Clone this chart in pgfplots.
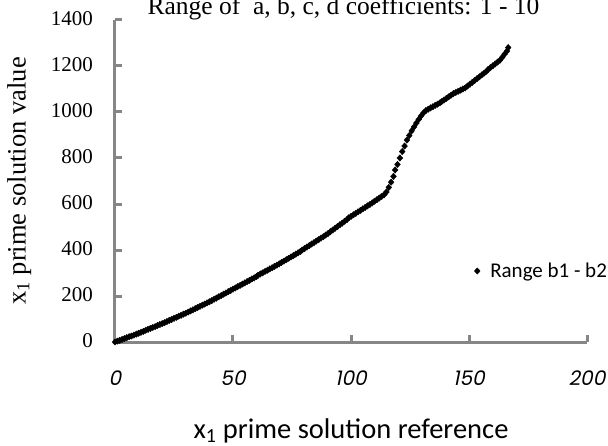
\documentclass[border=0pt]{standalone}
\usepackage{fontspec}
\setmainfont{Liberation Serif}
\newfontfamily\calibri{Carlito}
\newfontfamily\gothic[FakeSlant=0.2]{Poppins}
\usepackage{pgfplots}
\usepackage{pgfplotstable}
\pgfplotsset{compat=1.18}
\definecolor{axgray}{RGB}{134,134,134}

\pgfplotstableread{
x y
0 0
1 4
2 7
3 11
4 15
5 19
6 23
7 26
8 30
9 34
10 38
11 42
12 46
13 51
14 55
15 59
16 63
17 67
18 72
19 76
20 80
21 84
22 89
23 94
24 98
25 103
26 107
27 112
28 116
29 121
30 125
31 130
32 135
33 140
34 145
35 150
36 155
37 160
38 165
39 170
40 175
41 180
42 186
43 191
44 197
45 202
46 208
47 213
48 219
49 224
50 230
51 235
52 241
53 246
54 252
55 257
56 263
57 268
58 274
59 279
60 285
60.6 290
61.6 296
62.6 301
63.6 307
64.6 312
65.6 318
66.6 323
67.6 329
68.6 334
69.6 340
70.6 346
71.6 352
72.6 358
73.6 364
74.6 370
75.6 376
76.6 382
77.6 388
78.6 394
79.3 400
80.3 406
81.3 413
82.3 419
83.3 426
84.3 432
85.3 439
86.3 445
87.3 452
88.3 458
89.3 465
90.3 472
91.3 480
92.3 487
93.3 495
94.3 502
95.3 510
96.3 517
97.3 525
98.3 532
99.0 540
100.0 546
101.0 553
102.0 559
103.0 566
104.0 572
105.0 579
106.0 585
107.0 592
108.0 598
109.0 605
110.0 612
111.0 619
112.0 626
113.0 633
114.0 640
115.0 652
116.0 672
117.0 695
118.0 720
118.7 748
119.7 772
120.7 800
121.7 828
122.7 852
123.7 878
124.7 898
125.7 918
126.7 935
127.7 952
128.7 968
129.7 983
130.7 996
131.7 1006
132.7 1012
133.7 1018
134.7 1023
135.7 1029
136.7 1034
137.7 1040
138.4 1045
139.4 1052
140.4 1059
141.4 1066
142.4 1073
143.4 1080
144.4 1085
145.4 1090
146.4 1095
147.4 1100
148.4 1105
149.4 1113
150.4 1121
151.4 1129
152.4 1137
153.4 1145
154.4 1153
155.4 1161
156.4 1169
157.4 1177
158.1 1185
159.1 1193
160.1 1201
161.1 1209
162.1 1217
163.1 1225
164.1 1238
165.1 1252
166.1 1265
166.6 1280
}\datatable

\begin{document}
\begin{tikzpicture}
\begin{axis}[
  scale only axis, width=472bp, height=322bp,
  xmin=0, xmax=200, ymin=0, ymax=1400,
  axis x line=bottom, axis y line=left,
  axis line style={draw=axgray, line width=3bp, -},
  every outer x axis line/.append style={draw=axgray, line width=3bp, -},
  every outer y axis line/.append style={draw=axgray, line width=3bp, -},
  xtick={0,50,100,150,200}, ytick={0,200,...,1400},
  minor tick num=0,
  tick align=inside, major tick length=7bp,
  major tick style={draw=axgray, line width=3bp},
  /pgf/number format/assume math mode=true,
  /pgf/number format/1000 sep={},
  xticklabel style={font=\gothic\fontsize{20bp}{24bp}\selectfont, anchor=center, yshift=-36bp},
  yticklabel style={font=\fontsize{21bp}{24bp}\selectfont, anchor=east, inner sep=0pt, xshift=-22bp, yshift=1bp},
  clip=false,
  title={Range of\ \ a, b, c, d coefficients: 1 - 10},
  title style={at={(axis description cs:0.484,1)}, anchor=base, inner sep=0pt, font=\fontsize{25.5bp}{28bp}\selectfont},
  xlabel={x\textsubscript{1} prime solution reference},
  xlabel style={at={(axis description cs:0.5,0)}, anchor=base, yshift=-96bp, inner sep=0pt, font=\calibri\fontsize{28.5bp}{32bp}\selectfont},
  ylabel={x\textsubscript{1} prime solution value},
  ylabel style={at={(axis description cs:-0.203,0.5)}, anchor=center, inner sep=0pt, font=\fontsize{26.5bp}{30bp}\selectfont},
  legend style={at={(axis description cs:0.761,0.2205)}, anchor=west, draw=none, fill=none, inner sep=0pt, font=\calibri\fontsize{21bp}{24bp}\selectfont},
  legend image code/.code={\path[draw=none,fill=none] (0bp,0bp) -- (11bp,0bp); \draw[mark repeat=1,mark phase=1,#1] plot coordinates {(0bp,0bp)};},
]
\addplot[only marks, mark=diamond*, mark size=3.2bp, mark options={xscale=1.2}, black] table[x=x,y=y] {\datatable};
\addlegendentry{Range b1 - b2}
\end{axis}
\pgfresetboundingbox
\path (-115bp,-104bp) rectangle (493bp,342bp);
\end{tikzpicture}
\end{document}
